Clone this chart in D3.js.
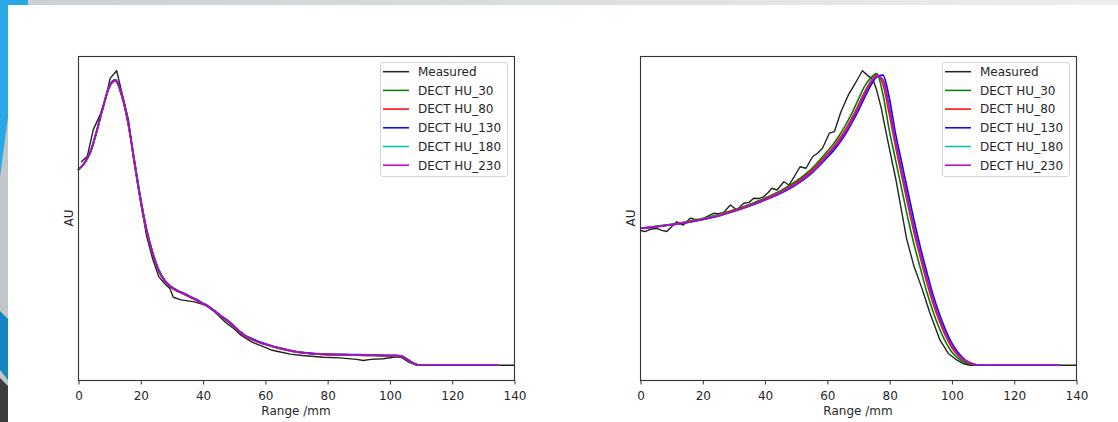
<!DOCTYPE html>
<html>
<head>
<meta charset="utf-8">
<script src="https://cdn.jsdelivr.net/npm/d3@7"></script>
<style>
body { margin: 0; background: #fff; }
svg { display: block; font-family: "DejaVu Sans", sans-serif; }
</style>
</head>
<body>
<svg id="chart" width="1118" height="422"></svg>
<script>
// ---- data (y is in arbitrary units, measured peak = 1) ----
var seriesNames = ["Measured", "DECT HU_30", "DECT HU_80", "DECT HU_130", "DECT HU_180", "DECT HU_230"]
var seriesColors = ["#222222", "#008000", "#ff0000", "#0000ff", "#00bfbf", "#bf00bf"]
var xTicks = [0, 20, 40, 60, 80, 100, 120, 140]

// left panel
var leftMeasuredRange = [1, 3, 4.9, 7.1, 9, 10.3, 12.4, 14, 16.2, 18, 20, 22, 24, 26, 28, 29.5, 30.6, 33, 37, 39,
	41.8, 44, 46, 47.7, 50, 52, 53.1, 56, 59.5, 62, 65, 68.1, 72, 78.8, 84, 89.5, 91.6, 94, 98, 102.3,
	104, 106, 108.8, 120, 140]
var leftMeasured = [0.69, 0.71, 0.80, 0.85, 0.91, 0.974, 1.0, 0.93, 0.833, 0.69, 0.56, 0.44, 0.36, 0.30, 0.275, 0.261, 0.231, 0.222, 0.216, 0.210,
	0.201, 0.180, 0.160, 0.143, 0.125, 0.105, 0.097, 0.078, 0.063, 0.052, 0.045, 0.038, 0.033, 0.027, 0.025, 0.020, 0.016, 0.020, 0.022, 0.029,
	0.026, 0.012, 0, 0, 0]

var leftRange = [0, 2, 4, 6, 8, 10, 12, 14, 16, 18, 20, 22, 24, 26, 28, 30, 32, 34, 36, 38, 40, 42, 44, 46, 48, 50,
	52, 54, 56, 58, 60, 62, 64, 66, 68, 70, 72, 74, 76, 78, 80, 85, 90, 95, 100, 102, 104, 106, 108, 110, 120, 135]
var leftHU30 = [0.662, 0.684, 0.722, 0.792, 0.872, 0.942, 0.965, 0.915, 0.825, 0.695, 0.565, 0.455, 0.377, 0.318, 0.284, 0.264, 0.251, 0.242, 0.231, 0.221, 0.209, 0.197, 0.182, 0.165, 0.150, 0.132,
	0.112, 0.097, 0.087, 0.078, 0.071, 0.065, 0.059, 0.054, 0.049, 0.045, 0.042, 0.040, 0.038, 0.037, 0.036, 0.035, 0.034, 0.033, 0.032, 0.032, 0.029, 0.017, 0.004, 0, 0, 0]
var leftHU80 = [0.662, 0.685, 0.723, 0.793, 0.873, 0.943, 0.966, 0.917, 0.827, 0.697, 0.567, 0.457, 0.378, 0.319, 0.284, 0.264, 0.251, 0.242, 0.231, 0.221, 0.209, 0.197, 0.182, 0.165, 0.150, 0.132,
	0.112, 0.097, 0.087, 0.078, 0.071, 0.065, 0.059, 0.054, 0.049, 0.045, 0.042, 0.040, 0.038, 0.037, 0.036, 0.035, 0.034, 0.033, 0.032, 0.032, 0.029, 0.017, 0.005, 0, 0, 0]
var leftHU130 = [0.664, 0.687, 0.727, 0.797, 0.877, 0.947, 0.970, 0.923, 0.834, 0.704, 0.574, 0.464, 0.383, 0.323, 0.287, 0.267, 0.254, 0.245, 0.234, 0.224, 0.212, 0.200, 0.185, 0.168, 0.153, 0.135,
	0.115, 0.100, 0.090, 0.081, 0.074, 0.067, 0.061, 0.056, 0.051, 0.047, 0.044, 0.042, 0.040, 0.039, 0.038, 0.037, 0.036, 0.035, 0.034, 0.034, 0.031, 0.019, 0.006, 0, 0, 0]
var leftHU180 = [0.663, 0.686, 0.725, 0.795, 0.875, 0.945, 0.968, 0.920, 0.830, 0.700, 0.570, 0.460, 0.380, 0.320, 0.285, 0.265, 0.252, 0.243, 0.232, 0.222, 0.210, 0.198, 0.183, 0.166, 0.151, 0.133,
	0.113, 0.098, 0.088, 0.079, 0.072, 0.066, 0.060, 0.055, 0.050, 0.046, 0.043, 0.041, 0.039, 0.038, 0.037, 0.036, 0.035, 0.034, 0.033, 0.033, 0.030, 0.018, 0.005, 0, 0, 0]
var leftHU230 = [0.663, 0.686, 0.725, 0.795, 0.875, 0.945, 0.968, 0.920, 0.830, 0.700, 0.570, 0.460, 0.380, 0.320, 0.285, 0.265, 0.252, 0.243, 0.232, 0.222, 0.210, 0.198, 0.183, 0.166, 0.151, 0.133,
	0.113, 0.098, 0.088, 0.079, 0.072, 0.066, 0.060, 0.055, 0.050, 0.046, 0.043, 0.041, 0.039, 0.038, 0.037, 0.036, 0.035, 0.034, 0.033, 0.033, 0.030, 0.018, 0.005, 0, 0, 0]

// right panel
var rightMeasuredRange = [0, 1.6, 3.5, 5.4, 7, 8.6, 10.3, 11.8, 13.9, 16.1, 17.5, 19.3, 21.5, 23.6, 25, 26.8, 29, 31.1, 33.3, 35,
	36.5, 38, 39.7, 41, 42.4, 44, 46.2, 47.8, 49.5, 51.4, 53.3, 55.4, 57, 58.6, 60.8, 62.4, 64.5, 67, 69, 71.4,
	73, 74.9, 76, 77.6, 78.2, 80, 82.2, 85.6, 88, 90.7, 93, 96.3, 99, 101.7, 104, 106, 110, 120, 130, 140]
var rightMeasured = [0.458, 0.454, 0.462, 0.465, 0.458, 0.454, 0.472, 0.487, 0.476, 0.499, 0.496, 0.493, 0.505, 0.516, 0.515, 0.518, 0.544, 0.527, 0.55, 0.553,
	0.567, 0.566, 0.572, 0.585, 0.601, 0.595, 0.623, 0.612, 0.64, 0.674, 0.669, 0.708, 0.72, 0.737, 0.788, 0.793, 0.86, 0.92, 0.955, 1.0,
	0.985, 0.968, 0.934, 0.867, 0.833, 0.74, 0.629, 0.43, 0.335, 0.256, 0.18, 0.086, 0.04, 0.018, 0.005, 0, 0, 0, 0, 0]

var rightRange = [0, 5, 10, 15, 20, 25, 30, 35, 40, 45, 50, 55, 60, 62, 64, 66, 68, 70, 72, 74, 76, 78, 80, 82, 84, 86, 88, 90,
	92, 94, 96, 98, 100, 102, 104, 106, 108, 110, 120, 135]
var rightHU30 = [0.465, 0.472, 0.479, 0.487, 0.498, 0.511, 0.527, 0.546, 0.567, 0.592, 0.624, 0.666, 0.725, 0.750, 0.780, 0.815, 0.855, 0.900, 0.945, 0.975, 0.990, 0.920, 0.800, 0.700, 0.600, 0.500, 0.410, 0.330,
	0.252, 0.185, 0.128, 0.082, 0.047, 0.025, 0.011, 0.004, 0, 0, 0, 0]
var rightHU80 = [0.465, 0.471, 0.478, 0.486, 0.496, 0.509, 0.525, 0.543, 0.564, 0.588, 0.619, 0.660, 0.716, 0.740, 0.768, 0.801, 0.839, 0.881, 0.926, 0.963, 0.986, 0.955, 0.855, 0.745, 0.645, 0.545, 0.450, 0.366,
	0.285, 0.213, 0.153, 0.102, 0.062, 0.034, 0.016, 0.006, 0.001, 0, 0, 0]
var rightHU130 = [0.464, 0.470, 0.477, 0.484, 0.494, 0.506, 0.522, 0.540, 0.560, 0.583, 0.612, 0.651, 0.704, 0.727, 0.754, 0.785, 0.822, 0.862, 0.906, 0.948, 0.978, 0.985, 0.910, 0.790, 0.690, 0.590, 0.492, 0.402,
	0.320, 0.243, 0.178, 0.123, 0.078, 0.045, 0.022, 0.009, 0.002, 0, 0, 0]
var rightHU180 = [0.465, 0.471, 0.477, 0.485, 0.495, 0.508, 0.523, 0.542, 0.562, 0.586, 0.615, 0.655, 0.710, 0.735, 0.761, 0.793, 0.830, 0.872, 0.918, 0.958, 0.983, 0.968, 0.878, 0.762, 0.662, 0.562, 0.465, 0.380,
	0.300, 0.226, 0.164, 0.111, 0.069, 0.038, 0.019, 0.008, 0.002, 0, 0, 0]
var rightHU230 = [0.465, 0.470, 0.477, 0.485, 0.495, 0.507, 0.523, 0.541, 0.562, 0.585, 0.614, 0.654, 0.709, 0.734, 0.760, 0.792, 0.829, 0.871, 0.916, 0.956, 0.982, 0.970, 0.880, 0.765, 0.665, 0.565, 0.468, 0.382,
	0.302, 0.228, 0.165, 0.112, 0.070, 0.039, 0.020, 0.008, 0.002, 0, 0, 0]

var zip = (xs, ys) => xs.map((v, i) => ({"x": v, "y": ys[i]}))

var svg = d3.select("#chart")

// ---- slide background ----
var defs = svg.append("defs")
var grad = defs.append("linearGradient").attr("id", "topbar")
grad.append("stop").attr("offset", "0%").attr("stop-color", "#cdd0d2")
grad.append("stop").attr("offset", "100%").attr("stop-color", "#eceeef")

svg.append("rect").attr("width", 1118).attr("height", 422).attr("fill", "#c4c7c9")
svg.append("rect").attr("x", 28).attr("width", 1090).attr("height", 5).attr("fill", "url(#topbar)")
svg.append("path").attr("fill", "#2aa8e6").attr("d", "M0,0H28V5H8V117L0,177Z")
svg.append("path").attr("fill", "#1686c3").attr("d", "M0,311L8,319V380L0,370Z")
svg.append("path").attr("fill", "#3c3c3c").attr("d", "M0,378L8,386V422H0Z")
svg.append("rect").attr("x", 8).attr("y", 5).attr("width", 1110).attr("height", 417).attr("fill", "#fff")

// ---- one panel ----
function drawPanel(left, measuredRange, measured, modelRange, models) {
	var margin = {top: 56, bottom: 380}
	var width = 436
	var fs = "12px"

	var x = d3.scaleLinear()
		.domain([0, 140])
		.range([left, left + width])

	var y = d3.scaleLinear()
		.domain([-0.05, 1.05])
		.range([margin.bottom, margin.top])

	var g = svg.append("g")

	var measuredLine = d3.line()
		.x(d => x(d.x))
		.y(d => y(d.y))

	var modelLine = d3.line()
		.curve(d3.curveMonotoneX)
		.x(d => x(d.x))
		.y(d => y(d.y))

	g.append("path")
		.attr("fill", "none")
		.attr("stroke", seriesColors[0])
		.attr("stroke-width", 1.4)
		.attr("stroke-linejoin", "round")
		.attr("d", measuredLine(zip(measuredRange, measured)))

	models.forEach((m, i) => {
		g.append("path")
			.attr("fill", "none")
			.attr("stroke", seriesColors[i + 1])
			.attr("stroke-width", 1.6)
			.attr("stroke-linejoin", "round")
			.attr("d", modelLine(zip(modelRange, m)))
	})

	// frame
	g.append("rect")
		.attr("x", left + 0.5)
		.attr("y", margin.top + 0.5)
		.attr("width", width)
		.attr("height", margin.bottom - margin.top)
		.attr("fill", "none")
		.attr("stroke", "#333")
		.attr("stroke-width", 1.1)

	var xAxis = g.append("g")
		.attr("transform", `translate(0.5,${margin.bottom + 0.5})`)
		.call(d3.axisBottom(x).tickValues(xTicks).tickSize(4).tickPadding(6.5).tickFormat(d3.format("d")))
	xAxis.select(".domain").remove()
	xAxis.selectAll(".tick line").attr("stroke", "#333")
	xAxis.selectAll(".tick text")
		.attr("fill", "#262626")
		.attr("font-size", fs)
		.attr("font-family", "DejaVu Sans, sans-serif")

	g.append("text")
		.attr("x", left + width / 2)
		.attr("y", 415)
		.attr("text-anchor", "middle")
		.attr("font-size", fs)
		.attr("fill", "#262626")
		.text("Range /mm")

	g.append("text")
		.attr("transform", `translate(${left - 5},${(margin.top + margin.bottom) / 2}) rotate(-90)`)
		.attr("text-anchor", "middle")
		.attr("font-size", fs)
		.attr("fill", "#262626")
		.text("AU")

	// legend
	var lx = left + width - 134
	var legend = g.append("g").attr("transform", `translate(${lx},62)`)
	legend.append("rect")
		.attr("x", 0.5).attr("y", 0.5)
		.attr("width", 127).attr("height", 114)
		.attr("rx", 2.5)
		.attr("fill", "#fff").attr("fill-opacity", 0.8)
		.attr("stroke", "#d5d5d5")
	seriesNames.forEach((name, i) => {
		var cy = 9.7 + i * 18.7
		legend.append("line")
			.attr("x1", 3).attr("x2", 29)
			.attr("y1", cy).attr("y2", cy)
			.attr("stroke", seriesColors[i])
			.attr("stroke-width", 1.5)
		legend.append("text")
			.attr("x", 38).attr("y", cy + 4.3)
			.attr("font-size", fs)
			.attr("fill", "#262626")
			.text(name)
	})
}

drawPanel(78, leftMeasuredRange, leftMeasured, leftRange, [leftHU30, leftHU80, leftHU130, leftHU180, leftHU230])
drawPanel(640, rightMeasuredRange, rightMeasured, rightRange, [rightHU30, rightHU80, rightHU130, rightHU180, rightHU230])
</script>
</body>
</html>
